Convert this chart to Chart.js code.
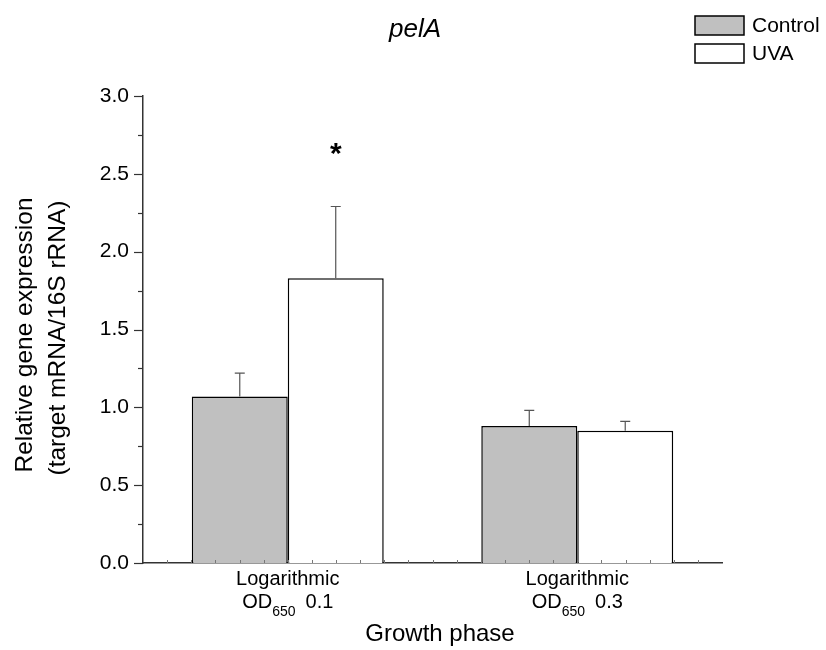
<!DOCTYPE html>
<html>
<head>
<meta charset="utf-8">
<script src="https://cdn.jsdelivr.net/npm/chart.js@4.4.1/dist/chart.umd.min.js"></script>
<style>
  html, body { margin: 0; padding: 0; background: #fff; }
  #wrap { width: 826px; height: 650px; }
</style>
</head>
<body>
<div id="wrap"><canvas id="pelaChart" width="826" height="650"></canvas></div>
<script>
const categories = ["Logarithmic OD650 0.1", "Logarithmic OD650 0.3"];
const phaseNames = ["Logarithmic", "Logarithmic"];
const odValues = ["0.1", "0.3"];
const controlValues = [1.07, 0.88];
const controlErrors = [0.15, 0.10];
const uvaValues = [1.83, 0.85];
const uvaErrors = [0.46, 0.06];
const uvaStars = ["*", ""];
const yTicks = [0, 0.5, 1.0, 1.5, 2.0, 2.5, 3.0];

const FONT = "'Liberation Sans', Arial, sans-serif";

const errorBars = {
    id: "errorBars",
    afterDatasetsDraw(chart) {
        const ctx = chart.ctx;
        const y = chart.scales.y;
        chart.data.datasets.forEach((ds, i) => {
            const meta = chart.getDatasetMeta(i);
            meta.data.forEach((bar, j) => {
                const top = y.getPixelForValue(ds.data[j] + ds.errors[j]);
                ctx.save();
                ctx.strokeStyle = "#555";
                ctx.lineWidth = 1.2;
                ctx.beginPath();
                ctx.moveTo(bar.x, bar.y);
                ctx.lineTo(bar.x, top);
                ctx.moveTo(bar.x - 5, top);
                ctx.lineTo(bar.x + 5, top);
                ctx.stroke();
                if (ds.stars && ds.stars[j]) {
                    ctx.fillStyle = "#000";
                    ctx.font = "bold 30px " + FONT;
                    ctx.textAlign = "center";
                    ctx.textBaseline = "middle";
                    ctx.fillText(ds.stars[j], bar.x, top - 52);
                }
                ctx.restore();
            });
        });
    },
    afterDraw(chart) {
        const ctx = chart.ctx;
        const x = chart.scales.x;
        const y = chart.scales.y;
        const area = chart.chartArea;
        ctx.save();
        // y ticks, major and minor
        ctx.strokeStyle = "#333";
        ctx.lineWidth = 1.2;
        for (let v = 0; v <= 3.0001; v += 0.25) {
            const py = Math.round(y.getPixelForValue(v)) + 0.5;
            const major = Math.abs(v * 2 - Math.round(v * 2)) < 1e-6;
            ctx.beginPath();
            ctx.moveTo(area.left - (major ? 9 : 5), py);
            ctx.lineTo(area.left, py);
            ctx.stroke();
        }
        // x minor ticks
        ctx.strokeStyle = "#777";
        ctx.lineWidth = 1;
        const step = (area.right - area.left) / 24;
        for (let k = 1; k < 24; k++) {
            if (k % 4 === 1 || k % 4 === 3) {
                // skip the ones hidden by bar edges
            }
            const px = Math.round(area.left + k * step) + 0.5;
            ctx.beginPath();
            ctx.moveTo(px, area.bottom);
            ctx.lineTo(px, area.bottom - 3);
            ctx.stroke();
        }
        // x category labels with subscript
        ctx.fillStyle = "#000";
        ctx.textBaseline = "alphabetic";
        categories.forEach((c, i) => {
            const cx = x.getPixelForValue(i);
            ctx.font = "20px " + FONT;
            ctx.textAlign = "center";
            ctx.fillText(phaseNames[i], cx, 585);
            const od = "OD";
            const sub = "650";
            const val = odValues[i];
            const wOd = ctx.measureText(od).width;
            const wVal = ctx.measureText(val).width;
            ctx.font = "14px " + FONT;
            const wSub = ctx.measureText(sub).width;
            const gap = 10;
            const total = wOd + wSub + gap + wVal;
            let sx = cx - total / 2;
            ctx.textAlign = "left";
            ctx.font = "20px " + FONT;
            ctx.fillText(od, sx, 608);
            sx += wOd;
            ctx.font = "14px " + FONT;
            ctx.fillText(sub, sx, 616);
            sx += wSub + gap;
            ctx.font = "20px " + FONT;
            ctx.fillText(val, sx, 608);
        });
        // x axis title
        ctx.font = "24px " + FONT;
        ctx.textAlign = "center";
        ctx.fillText("Growth phase", 440, 641);
        // y axis title, two lines, rotated
        ctx.save();
        ctx.translate(0, 335);
        ctx.rotate(-Math.PI / 2);
        ctx.font = "24.5px " + FONT;
        ctx.textAlign = "center";
        ctx.textBaseline = "middle";
        ctx.fillText("Relative gene expression", 0, 25);
        ctx.fillText("(target mRNA/16S rRNA)", -3, 58);
        ctx.restore();
        // title
        ctx.font = "italic 26px " + FONT;
        ctx.textAlign = "center";
        ctx.fillText("pelA", 415, 37);
        // legend
        const items = [["Control", "#c0c0c0"], ["UVA", "#ffffff"]];
        items.forEach((it, i) => {
            const ly = 16 + i * 28;
            ctx.fillStyle = it[1];
            ctx.fillRect(695, ly, 49, 19);
            ctx.strokeStyle = "#000";
            ctx.lineWidth = 1.5;
            ctx.strokeRect(695, ly, 49, 19);
            ctx.fillStyle = "#000";
            ctx.font = "21px " + FONT;
            ctx.textAlign = "left";
            ctx.textBaseline = "middle";
            ctx.fillText(it[0], 752, ly + 10);
        });
        ctx.restore();
    }
};

new Chart(document.getElementById("pelaChart"), {
    type: "bar",
    data: {
        labels: categories,
        datasets: [{
            label: "Control",
            data: controlValues,
            errors: controlErrors,
            backgroundColor: "#c0c0c0",
            borderColor: "#000",
            borderWidth: 1.5,
            borderSkipped: "bottom",
            categoryPercentage: 0.663,
            barPercentage: 1.0,
        }, {
            label: "UVA",
            data: uvaValues,
            errors: uvaErrors,
            stars: uvaStars,
            backgroundColor: "#ffffff",
            borderColor: "#000",
            borderWidth: 1.5,
            borderSkipped: "bottom",
            categoryPercentage: 0.663,
            barPercentage: 1.0,
        }],
    },
    options: {
        responsive: false,
        animation: false,
        layout: { padding: { left: 0, right: 104, top: 96, bottom: 0 } },
        plugins: {
            legend: { display: false },
            tooltip: { enabled: false },
        },
        scales: {
            x: {
                grid: { display: false, drawTicks: false },
                border: { display: true, color: "#333", width: 1.5 },
                ticks: { display: false },
                afterFit(scale) { scale.height = 87; },
            },
            y: {
                min: 0,
                max: 3.0,
                afterBuildTicks(scale) { scale.ticks = yTicks.map(v => ({ value: v })); },
                grid: { display: false, drawTicks: false },
                border: { display: true, color: "#333", width: 1.5 },
                ticks: {
                    padding: 14,
                    color: "#000",
                    font: { family: FONT, size: 21 },
                    callback: v => Number(v).toFixed(1),
                },
                afterFit(scale) { scale.width = 143; },
            },
        },
    },
    plugins: [errorBars],
});
</script>
</body>
</html>
